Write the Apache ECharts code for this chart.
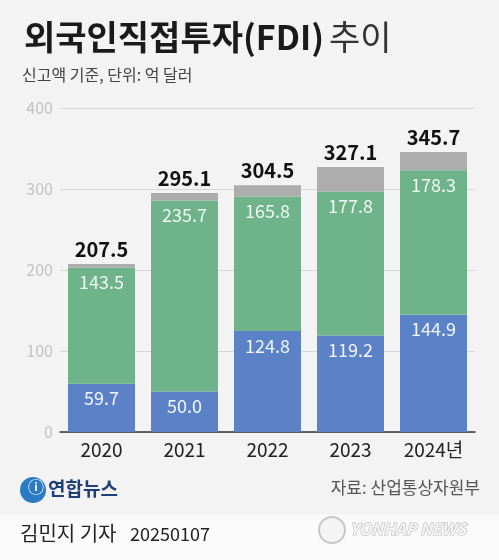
<!DOCTYPE html>
<html><head><meta charset="utf-8">
<script src="https://cdn.jsdelivr.net/npm/echarts@6/dist/echarts.min.js"></script>
<style>html,body{margin:0;padding:0;background:#f3f3f3;}#c{width:499px;height:560px;}</style>
</head><body><div id="c"></div>
<script>
const categories = ['2020', '2021', '2022', '2023', '2024년'];
const totals = [207.5, 295.1, 304.5, 327.1, 345.7];
const manufacturing = [59.7, 50.0, 124.8, 119.2, 144.9];
const services = [143.5, 235.7, 165.8, 177.8, 178.3];
const other = totals.map((t, i) => +(t - manufacturing[i] - services[i]).toFixed(1));
const yTicks = [0, 100, 200, 300, 400];

const FONT = '"Noto Sans CJK KR", "Noto Sans", sans-serif';
const chart = echarts.init(document.getElementById('c'));
chart.setOption({
  backgroundColor: '#f3f3f3',
  animation: false,
  title: {
    left: 19, top: 15,
    text: '{b|외국인직접투자(FDI)} {r|추이}',
    textStyle: {
      rich: {
        b: { fontSize: 34, fontWeight: 'bold', color: '#1a1a1a', fontFamily: FONT },
        r: { fontSize: 34, fontWeight: 'normal', color: '#333', fontFamily: FONT }
      }
    }
  },
  grid: { left: 60, right: 24, top: 108, bottom: 128 },
  xAxis: {
    type: 'category', data: categories,
    axisLine: { lineStyle: { color: '#333', width: 1.5 } },
    axisTick: { show: false },
    axisLabel: { color: '#222', fontSize: 19, margin: 8, fontFamily: FONT }
  },
  yAxis: {
    type: 'value', min: yTicks[0], max: yTicks[yTicks.length - 1], interval: 100,
    axisLine: { show: false }, axisTick: { show: false },
    axisLabel: { color: '#c2c2c2', fontSize: 16, margin: 7, fontFamily: FONT },
    splitLine: { lineStyle: { color: '#d6d6d6', width: 1 } }
  },
  series: [
    {
      name: '제조업', type: 'bar', stack: 't', data: manufacturing, barWidth: 67,
      itemStyle: { color: '#5b82c6' },
      label: { show: true, position: 'insideTop', distance: 6, color: '#f2f6ff', fontSize: 18, fontFamily: FONT,
        formatter: p => p.value.toFixed(1) }
    },
    {
      name: '서비스업', type: 'bar', stack: 't', data: services, barWidth: 67,
      itemStyle: { color: '#6fb38b' },
      label: { show: true, position: 'insideTop', distance: 6, color: '#eefaf2', fontSize: 18, fontFamily: FONT,
        formatter: p => p.value.toFixed(1) }
    },
    {
      name: '기타', type: 'bar', stack: 't', data: other, barWidth: 67,
      itemStyle: { color: '#adadad' },
      label: { show: true, position: 'top', distance: 5, color: '#111', fontSize: 20, fontWeight: 'bold', fontFamily: FONT,
        formatter: p => totals[p.dataIndex].toFixed(1) }
    }
  ],
  graphic: [
    { type: 'text', left: 22, top: 67, style: { text: '신고액 기준, 단위: 억 달러', fill: '#444', font: '16px ' + FONT } },
    { type: 'text', x: 433, y: 226, style: { text: '서비\n스업', fill: '#fff', font: 'bold 19px ' + FONT, align: 'center', lineHeight: 24 } },
    { type: 'text', x: 433, y: 373, style: { text: '제조업', fill: '#fff', font: 'bold 19px ' + FONT, align: 'center' } },
    { type: 'circle', shape: { cx: 33, cy: 490, r: 13 }, style: { fill: '#2a7bc4' } },
    { type: 'text', x: 28, y: 479, style: { text: 'ⓘ', fill: '#fff', font: 'bold 16px ' + FONT } },
    { type: 'text', x: 48, y: 479, style: { text: '연합뉴스', fill: '#1f3f78', font: 'bold 19px ' + FONT } },
    { type: 'text', x: 480, y: 479, style: { text: '자료: 산업통상자원부', fill: '#555', font: '17px ' + FONT, align: 'right' } },
    { type: 'rect', shape: { x: 0, y: 515, width: 499, height: 45 }, style: { fill: '#fbfbfb' } },
    { type: 'text', x: 20, y: 523, style: { text: '김민지 기자', fill: '#222', font: '20px ' + FONT } },
    { type: 'text', x: 130, y: 525, style: { text: '20250107', fill: '#222', font: '18px ' + FONT } },
    { type: 'circle', shape: { cx: 332, cy: 530, r: 13 }, style: { fill: '#f4f4f4', stroke: '#c8c8c8', lineWidth: 2 } },
    { type: 'text', x: 350, y: 521, style: { text: 'YONHAP NEWS', fill: '#f4f4f4', stroke: '#bdbdbd', lineWidth: 1.2, font: 'italic bold 16px ' + FONT } }
  ]
});
</script></body></html>
